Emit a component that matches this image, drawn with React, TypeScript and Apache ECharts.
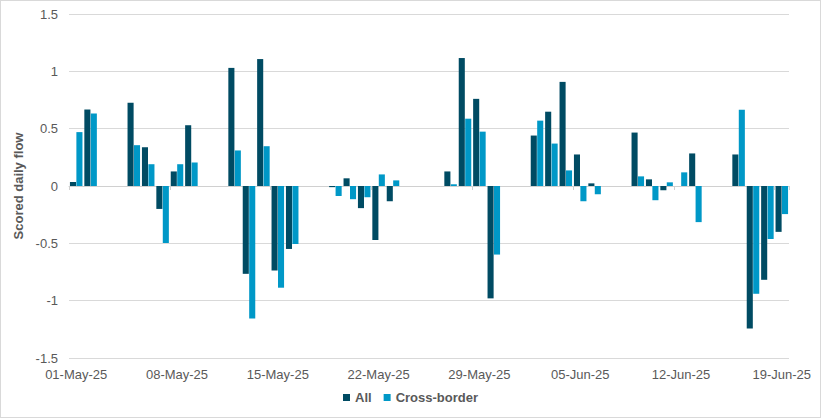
import React, { useEffect, useRef } from "react";
import * as echarts from "echarts";

const categories: string[] = [
  "01-May-25","02-May-25","03-May-25","04-May-25","05-May-25","06-May-25","07-May-25",
  "08-May-25","09-May-25","10-May-25","11-May-25","12-May-25","13-May-25","14-May-25",
  "15-May-25","16-May-25","17-May-25","18-May-25","19-May-25","20-May-25","21-May-25",
  "22-May-25","23-May-25","24-May-25","25-May-25","26-May-25","27-May-25","28-May-25",
  "29-May-25","30-May-25","31-May-25","01-Jun-25","02-Jun-25","03-Jun-25","04-Jun-25",
  "05-Jun-25","06-Jun-25","07-Jun-25","08-Jun-25","09-Jun-25","10-Jun-25","11-Jun-25",
  "12-Jun-25","13-Jun-25","14-Jun-25","15-Jun-25","16-Jun-25","17-Jun-25","18-Jun-25",
  "19-Jun-25",
];

const allValues: (number | null)[] = [
  0.035, 0.667, null, null, 0.726, 0.338, -0.2,
  0.127, 0.53, null, null, 1.03, -0.766, 1.107,
  -0.737, -0.549, null, null, -0.01, 0.067, -0.193,
  -0.471, -0.133, null, null, null, 0.127, 1.116,
  0.76, -0.98, null, null, 0.44, 0.648, 0.908,
  0.275, 0.023, null, null, 0.466, 0.058, -0.037,
  0, 0.284, null, null, 0.275, -1.243, -0.818,
  -0.4,
];

const crossBorderValues: (number | null)[] = [
  0.47, 0.633, null, null, 0.356, 0.19, -0.497,
  0.19, 0.205, null, null, 0.31, -1.156, 0.347,
  -0.887, -0.506, null, null, -0.087, -0.115, -0.098,
  0.101, 0.049, null, null, null, 0.015, 0.587,
  0.474, -0.598, null, null, 0.57, 0.37, 0.136,
  -0.133, -0.072, null, null, 0.084, -0.124, 0.032,
  0.119, -0.315, null, null, 0.665, -0.94, -0.462,
  -0.245,
];

const yTicks = { min: -1.5, max: 1.5, interval: 0.5 };

const FONT = "'Liberation Sans', Arial, sans-serif";
const TEXT = "#595959";

export default function App() {
  const ref = useRef<HTMLDivElement>(null);
  useEffect(() => {
    if (!ref.current) return;
    const chart = echarts.init(ref.current, undefined, { renderer: "svg" });
    chart.setOption({
      animation: false,
      textStyle: { fontFamily: FONT },
      grid: { left: 68, right: 31, top: 13, bottom: 59, containLabel: false },
      legend: {
        bottom: 8,
        left: "center",
        itemWidth: 7,
        itemHeight: 7,
        itemGap: 12,
        icon: "rect",
        textStyle: { color: TEXT, fontSize: 13, fontWeight: "bold", fontFamily: FONT },
        data: ["All", "Cross-border"],
      },
      xAxis: [
        {
          type: "category",
          data: categories,
          position: "bottom",
          axisLine: { show: false, onZero: false },
          axisTick: { show: false },
          axisLabel: {
            interval: 6,
            color: TEXT,
            fontSize: 13,
            fontFamily: FONT,
            margin: 10,
          },
          splitLine: { show: false },
        },
        {
          type: "category",
          data: categories,
          position: "bottom",
          axisLine: { show: true, onZero: true, lineStyle: { color: "#d0d0d0", width: 1 } },
          axisTick: { show: true, interval: 6, length: 4, lineStyle: { color: "#d0d0d0" } },
          axisLabel: { show: false },
          splitLine: { show: false },
        },
      ],
      yAxis: {
        type: "value",
        min: yTicks.min,
        max: yTicks.max,
        interval: yTicks.interval,
        name: "Scored daily flow",
        nameLocation: "middle",
        nameGap: 35,
        nameRotate: 90,
        nameTextStyle: { color: TEXT, fontSize: 13, fontWeight: "bold", fontFamily: FONT },
        axisLine: { show: false },
        axisTick: { show: false },
        axisLabel: { color: TEXT, fontSize: 13, fontFamily: FONT, margin: 11 },
        splitLine: { lineStyle: { color: "#d9d9d9", width: 1 } },
      },
      series: [
        {
          name: "All",
          type: "bar",
          xAxisIndex: 0,
          data: allValues,
          itemStyle: { color: "#004B63" },
          barGap: "6%",
          barCategoryGap: "13%",
        },
        {
          name: "Cross-border",
          type: "bar",
          xAxisIndex: 0,
          data: crossBorderValues,
          itemStyle: { color: "#0098C7" },
          barGap: "6%",
          barCategoryGap: "13%",
        },
      ],
    });
    return () => chart.dispose();
  }, []);
  return (
    <div
      style={{
        position: "fixed",
        left: 0,
        top: 0,
        width: 821,
        height: 418,
        boxSizing: "border-box",
        border: "1px solid #d9d9d9",
        background: "#fff",
      }}
    >
      <div ref={ref} style={{ width: 819, height: 416 }} />
    </div>
  );
}
